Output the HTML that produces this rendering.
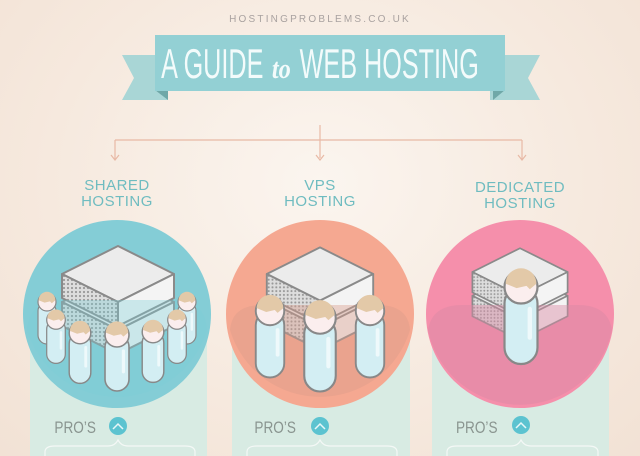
<!DOCTYPE html>
<html><head><meta charset="utf-8"><style>
html,body{margin:0;padding:0}
body{width:640px;height:456px;overflow:hidden;position:relative;background:radial-gradient(ellipse at 50% 40%,#fbf5ef 0%,#f6e9de 60%,#f2e2d5 100%);font-family:"Liberation Sans",sans-serif}
.t{position:absolute;text-align:center;color:#6fbcc0;font-size:15px;line-height:16px;letter-spacing:0.5px}
</style></head><body>
<svg width="640" height="456" style="position:absolute;left:0;top:0">
<defs>
<pattern id="mesh" width="4" height="4" patternUnits="userSpaceOnUse"><rect width="4" height="4" fill="#ddd"/><circle cx="2" cy="2" r="1.1" fill="#999"/></pattern>
<g id="slab">
<polygon points="-56,0 0,-28 56,0 0,28" fill="#ececec" stroke="#8a8a8a" stroke-width="2" stroke-linejoin="round"/>
<polygon points="-56,0 0,28 0,52 -56,24" fill="url(#mesh)" stroke="#8a8a8a" stroke-width="2" stroke-linejoin="round"/>
<polygon points="0,28 56,0 56,24 0,52" fill="#f4f4f4" stroke="#8a8a8a" stroke-width="2" stroke-linejoin="round"/>
</g>
<g id="server"><use href="#slab" y="28"/><use href="#slab"/></g>
<g id="person">
<rect x="-15" y="0" width="30" height="70" rx="15" fill="#d3eef3" stroke="#888" stroke-width="2"/>
<rect x="6" y="18" width="4" height="30" rx="2" fill="#eef9fb"/>
<circle cx="0" cy="0" r="15" fill="#fbeeee" stroke="#888" stroke-width="2"/>
<path d="M-14,-3 A14,14 0 0 1 14,-3 L8,2 L5,-1 L-4,1 Z" fill="#e3c9a8"/>
</g>
</defs>
<g stroke="#e8b9a5" stroke-width="1.2" fill="none">
<path d="M320,125 V158 M115,140 H522 M115,140 V160 M522,140 V160"/>
<path d="M111,155 l4,5 l4,-5 M316,155 l4,5 l4,-5 M518,155 l4,5 l4,-5"/>
</g>
<rect x="30" y="300" width="177" height="170" rx="14" fill="#d8ebe3"/>
<rect x="232" y="300" width="178" height="170" rx="14" fill="#d8ebe3"/>
<rect x="432" y="300" width="177" height="170" rx="14" fill="#d8ebe3"/>
<circle cx="117" cy="314" r="94" fill="#84cdd6"/>
<circle cx="320" cy="314" r="94" fill="#f5a891"/>
<circle cx="520" cy="314" r="94" fill="#f58fab"/>
<use href="#server" transform="translate(118,274)"/>
<use href="#server" transform="translate(320,274) scale(0.95)"/>
<use href="#server" transform="translate(520,272) scale(0.85)"/>
<path d="M27,330 Q30,300 60,300 H175 Q205,300 207,330 A94,94 0 0 1 27,330Z" fill="#7ccfd6" opacity="0.35"/>
<path d="M230,330 Q232,305 262,305 H378 Q408,305 410,330 A94,94 0 0 1 230,330Z" fill="#d99a8a" opacity="0.4"/>
<path d="M428,330 Q432,305 462,305 H578 Q608,305 612,330 A94,94 0 0 1 428,330Z" fill="#d98aa5" opacity="0.45"/>
<use href="#person" transform="translate(47,302) scale(0.6)"/>
<use href="#person" transform="translate(187,302) scale(0.6)"/>
<use href="#person" transform="translate(56,320) scale(0.62)"/>
<use href="#person" transform="translate(177,320) scale(0.62)"/>
<use href="#person" transform="translate(80,333) scale(0.72)"/>
<use href="#person" transform="translate(153,332) scale(0.72)"/>
<use href="#person" transform="translate(117,335) scale(0.8)"/>
<use href="#person" transform="translate(270,311) scale(0.95)"/>
<use href="#person" transform="translate(370,311) scale(0.95)"/>
<use href="#person" transform="translate(320,318) scale(1.05)"/>
<use href="#person" transform="translate(521,287) scale(1.1)"/>
<g fill="#5cc3d0"><circle cx="118" cy="426" r="9"/><circle cx="320" cy="426" r="9"/><circle cx="521" cy="425" r="9"/></g>
<g stroke="#e8f7f8" stroke-width="1.5" fill="none"><path d="M113,429 l5,-5 l5,5 M315,429 l5,-5 l5,5 M516,428 l5,-5 l5,5"/></g>
<g stroke="#f4f8f6" stroke-width="1.2" fill="none">
<path d="M45,456 V452 Q45,446 55,446 H108 Q115,446 118,440 Q121,446 128,446 H185 Q195,446 195,452 V456"/>
<path d="M247,456 V452 Q247,446 257,446 H310 Q317,446 320,440 Q323,446 330,446 H387 Q397,446 397,452 V456"/>
<path d="M447,456 V452 Q447,446 457,446 H511 Q518,446 521,440 Q524,446 531,446 H588 Q598,446 598,452 V456"/>
</g>
<g font-family="Liberation Sans, sans-serif" font-size="17" fill="#8a9590" transform="scale(0.8,1)">
<text x="68" y="433">PRO’S</text><text x="318" y="433">PRO’S</text><text x="570" y="433">PRO’S</text>
</g>
<polygon points="122,55 168,55 168,100 122,100 134,78" fill="#a9d6d6"/>
<polygon points="490,55 540,55 528,78 540,100 490,100" fill="#a9d6d6"/>
<polygon points="155,90 168,90 168,100" fill="#6fa8a8"/>
<polygon points="493,90 505,90 493,100" fill="#6fa8a8"/>
<rect x="155" y="35" width="350" height="56" fill="#93d0d4"/>
</svg>
<div style="position:absolute;left:0;width:640px;top:14px;text-align:center;font-size:10px;letter-spacing:2.2px;color:#a9a2a0">HOSTINGPROBLEMS.CO.UK</div>
<div style="position:absolute;left:-80px;width:800px;top:40px;text-align:center;white-space:nowrap;color:#f3fbfb;font-size:42px;line-height:48px;transform:scaleX(0.6)">A GUIDE <span style="font-family:'Liberation Serif',serif;font-style:italic;font-weight:bold;font-size:29px;display:inline-block;transform:scaleX(1.4)">&nbsp;to&nbsp;</span> WEB HOSTING</div>
<div class="t" style="left:57px;width:120px;top:178px">SHARED<br>HOSTING</div>
<div class="t" style="left:260px;width:120px;top:178px">VPS<br>HOSTING</div>
<div class="t" style="left:460px;width:120px;top:180px">DEDICATED<br>HOSTING</div>
</body></html>
